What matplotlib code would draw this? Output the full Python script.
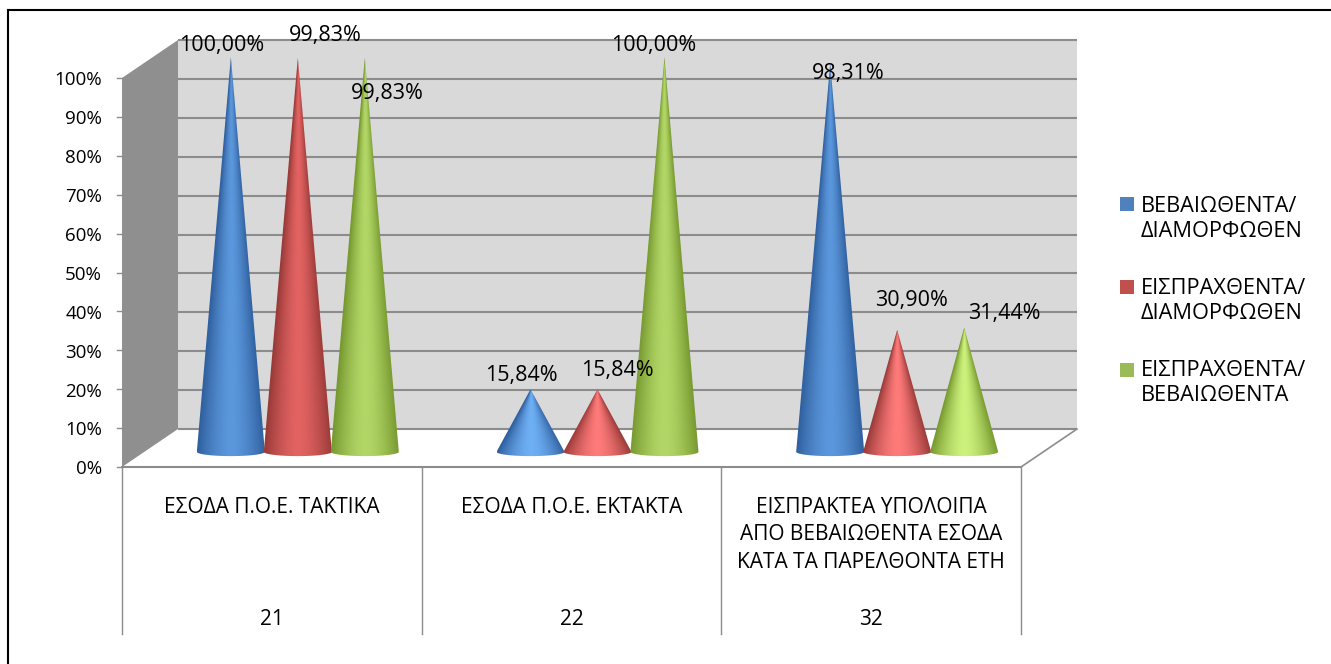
import numpy as np
import matplotlib
matplotlib.use('Agg')
from matplotlib import pyplot as plt
from matplotlib.patches import Polygon, Rectangle
from matplotlib.lines import Line2D

plt.rcParams['font.family'] = ['Open Sans', 'DejaVu Sans']

W, H = 1331, 664

categories = ['ΕΣΟΔΑ Π.Ο.Ε. ΤΑΚΤΙΚΑ', 'ΕΣΟΔΑ Π.Ο.Ε. ΕΚΤΑΚΤΑ',
              'ΕΙΣΠΡΑΚΤΕΑ ΥΠΟΛΟΙΠΑ\nΑΠΟ ΒΕΒΑΙΩΘΕΝΤΑ ΕΣΟΔΑ\nΚΑΤΑ ΤΑ ΠΑΡΕΛΘΟΝΤΑ ΕΤΗ']
codes = ['21', '22', '32']
series_names = ['ΒΕΒΑΙΩΘΕΝΤΑ/\nΔΙΑΜΟΡΦΩΘΕΝ', 'ΕΙΣΠΡΑΧΘΕΝΤΑ/\nΔΙΑΜΟΡΦΩΘΕΝ', 'ΕΙΣΠΡΑΧΘΕΝΤΑ/\nΒΕΒΑΙΩΘΕΝΤΑ']
vals_blue = [100.00, 15.84, 98.31]
vals_red = [99.83, 15.84, 30.90]
vals_green = [99.83, 100.00, 31.44]
yticks = [0, 10, 20, 30, 40, 50, 60, 70, 80, 90, 100]

colors = ['#4f81bd', '#c0504d', '#9bbb59']
dark = [np.array(matplotlib.colors.to_rgb(c)) for c in ['#2f5f9e', '#983a38', '#76982f']]
light = [np.array(matplotlib.colors.to_rgb(c)) for c in ['#5b97dc', '#e26362', '#b3d767']]
tip_light = [np.array(matplotlib.colors.to_rgb(c)) for c in ['#6fb0f5', '#ff7b7a', '#cdf27c']]

fig = plt.figure(figsize=(W / 100, H / 100), dpi=100)
# axes = the front plane of the 3d box
ax = fig.add_axes([122 / W, 1 - 467 / H, (1021 - 122) / W, (467 - 78) / H])
ax.axis('off')

# depth of the box in data units
ddx = 56 / (899 / 3)
ddy = 38 / 3.89
grid = '#8c8c8c'

ax.add_patch(Polygon([(0, 0), (ddx, ddy), (ddx, 100 + ddy), (0, 100)], fc='#8f8f8f', ec='none', clip_on=False))
ax.add_patch(Polygon([(ddx, ddy), (3 + ddx, ddy), (3 + ddx, 100 + ddy), (ddx, 100 + ddy)], fc='#d9d9d9', ec='none', clip_on=False))
for t in yticks:
    ax.plot([ddx, 3 + ddx], [t + ddy, t + ddy], color=grid, lw=1.5, clip_on=False, solid_capstyle='butt')
    ax.plot([-5 / 299.7, 0], [t, t], color=grid, lw=1, clip_on=False)
    ax.text(-20 / 299.7, t - 0.6, '%d%%' % t, ha='right', va='center', fontsize=13.5, color='black')
ax.plot([3, 3 + ddx], [0, ddy], color=grid, lw=1.2, clip_on=False)
ax.plot([0, 3], [0, 0], color=grid, lw=1.5, clip_on=False)

# category table below the floor
for i in range(4):
    ax.plot([i, i], [0, -43], color=grid, lw=1, clip_on=False)
for i in range(3):
    ax.text(i + 0.5, -7.6, categories[i], ha='center', va='top', fontsize=15, linespacing=1.42, color='black')
    ax.text(i + 0.5, -39.3, codes[i], ha='center', va='center', fontsize=15, color='black')


def cone(xc, value, k):
    half = 0.1135
    base = 3.9
    top = base + value * 1.015
    nx, ny = 90, 220
    xs = np.linspace(xc - half, xc + half, nx)
    ys = np.linspace(base - 2, top, ny)
    X, Y = np.meshgrid(xs, ys)
    frac = np.clip((Y - base) / (top - base), 0, 1)
    u = np.abs(X - xc) / (half * (1 - frac) + 1e-4)
    u = np.clip(u, 0, 1)
    # short cones are brighter in the middle near the base
    centre = light[k] if value > 50 else tip_light[k]
    s = (1 - u ** 1.6)[..., None]
    img = dark[k] * (1 - s) + centre * s
    im = ax.imshow(img, extent=[xs[0], xs[-1], ys[0], ys[-1]], origin='lower',
                   aspect='auto', interpolation='bilinear', zorder=3)
    th = np.linspace(np.pi, 2 * np.pi, 40)
    ex = xc + half * np.cos(th)
    ey = base + 1.1 * np.sin(th)
    pts = [(xc, top)] + list(zip(ex, ey))
    clip = Polygon(pts, closed=True, transform=ax.transData, fc='none', ec='none')
    # apex of the cones goes above the front plane, so clip to the figure not the axes
    im.set_clip_box(fig.bbox)
    im.set_clip_path(clip)


all_vals = [vals_blue, vals_red, vals_green]
offs = [-0.2235, 0, 0.2235]
for i in range(3):
    for k in range(3):
        cone(i + 0.5 + 26 / 299.7 + offs[k], all_vals[k][i], k)

ax.set_xlim(0, 3)
ax.set_ylim(0, 100)

# value labels, placed as in the source chart
labels_blue = ['100,00%', '15,84%', '98,31%']
labels_red = ['99,83%', '15,84%', '30,90%']
labels_green = ['99,83%', '100,00%', '31,44%']
label_px = [[(222, 46), (521, 375), (848, 73)],
            [(325, 36), (617, 370), (912, 300)],
            [(387, 93), (654, 46), (1004, 313)]]
all_labels = [labels_blue, labels_red, labels_green]
for k in range(3):
    for i in range(3):
        px, py = label_px[k][i]
        fig.text(px / W, 1 - py / H, all_labels[k][i], ha='center', va='center', fontsize=15.5, color='black', zorder=6)

# legend
leg_y = [196, 278, 360]
for k in range(3):
    fig.add_artist(Rectangle((1120 / W, 1 - (211 + 83 * k) / H), 14 / W, 13.5 / H, fc=colors[k], ec='none', transform=fig.transFigure))
    fig.text(1141 / W, 1 - (leg_y[k] + 23) / H, series_names[k], ha='left', va='center', fontsize=15.7, linespacing=1.26, color='black')

# outer frame: only top and left edges show in the crop
fig.add_artist(Line2D([8 / W, 8 / W], [0, 1 - 10 / H], color='black', lw=1.5, transform=fig.transFigure))
fig.add_artist(Line2D([8 / W, 1], [1 - 10 / H, 1 - 10 / H], color='black', lw=1.5, transform=fig.transFigure))

fig.savefig('out.png', dpi=100)
